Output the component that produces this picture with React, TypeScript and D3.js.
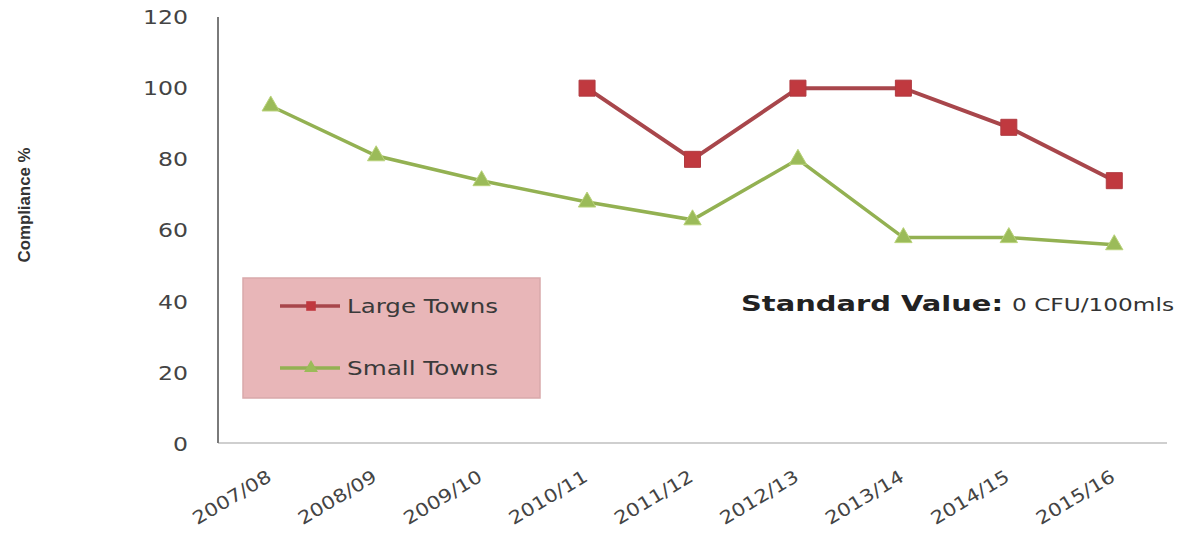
import React, { useEffect, useRef } from "react";
import * as d3 from "d3";

const categories = ["2007/08", "2008/09", "2009/10", "2010/11", "2011/12", "2012/13", "2013/14", "2014/15", "2015/16"];
const largeTowns: (number | null)[] = [null, null, null, 100, 80, 100, 100, 89, 74];
const smallTowns: (number | null)[] = [95, 81, 74, 68, 63, 80, 58, 58, 56];
const yTicks = [0, 20, 40, 60, 80, 100, 120];
const seriesNames = ["Large Towns", "Small Towns"];

const W = 1182;
const H = 538;

export default function App() {
  const ref = useRef<SVGSVGElement | null>(null);

  useEffect(() => {
    const svg = d3.select(ref.current);
    svg.selectAll("*").remove();

    const x = d3.scalePoint<string>().domain(categories).range([218, 1167]).padding(0.5);
    const y = d3.scaleLinear().domain([0, 120]).range([444, 17]);
    const font = "'DejaVu Sans', sans-serif";

    // axes lines
    svg.append("line").attr("x1", 218).attr("x2", 1167).attr("y1", 443).attr("y2", 443)
      .attr("stroke", "#cfcfcf").attr("stroke-width", 2);
    svg.append("line").attr("x1", 218).attr("x2", 218).attr("y1", 17).attr("y2", 443)
      .attr("stroke", "#7a7a7a").attr("stroke-width", 2);

    // y tick labels
    const yAxis = d3.axisLeft(y).tickValues(yTicks).tickSize(0).tickPadding(0);
    const gy = svg.append("g").attr("transform", "translate(188,0)").call(yAxis);
    gy.select(".domain").remove();
    gy.selectAll("text")
      .attr("font-family", font).attr("font-size", 20).attr("fill", "#444")
      .attr("textLength", (d: any) => String(d).length * 15)
      .attr("lengthAdjust", "spacingAndGlyphs");

    // x labels
    const gx = svg.append("g");
    gx.selectAll("text").data(categories).enter().append("text")
      .attr("transform", (d) => `translate(${(x(d) as number) + 2},480) rotate(-31)`)
      .attr("text-anchor", "end")
      .attr("font-family", font).attr("font-size", 18).attr("fill", "#444")
      .attr("textLength", 88).attr("lengthAdjust", "spacingAndGlyphs")
      .text((d) => d);

    // y title
    svg.append("text")
      .attr("transform", "translate(30,205) rotate(-90)")
      .attr("text-anchor", "middle")
      .attr("font-family", "'Liberation Sans', sans-serif").attr("font-weight", "bold")
      .attr("font-size", 17).attr("fill", "#333")
      .attr("textLength", 115).attr("lengthAdjust", "spacingAndGlyphs")
      .text("Compliance %");

    // legend box
    svg.append("rect").attr("x", 243).attr("y", 278).attr("width", 297).attr("height", 120)
      .attr("fill", "#e8b6b8").attr("stroke", "#d9a9ab").attr("stroke-width", 1.5);

    const redLine = "#a8464b";
    const redFill = "#c0393f";
    const greenLine = "#93b152";
    const greenFill = "#9bbb59";

    const line = d3.line<number | null>()
      .defined((d) => d !== null)
      .x((_, i) => x(categories[i]) as number)
      .y((d) => y(d as number));

    svg.append("path").attr("d", line(smallTowns) as string)
      .attr("fill", "none").attr("stroke", greenLine).attr("stroke-width", 3.5);
    svg.append("path").attr("d", line(largeTowns) as string)
      .attr("fill", "none").attr("stroke", redLine).attr("stroke-width", 4);

    const tri = d3.symbol().type(d3.symbolTriangle).size(130);
    const sq = d3.symbol().type(d3.symbolSquare).size(256);

    svg.append("g").selectAll("path").data(smallTowns.map((v, i) => ({ v, c: categories[i] })).filter((d) => d.v !== null))
      .enter().append("path")
      .attr("d", tri as any)
      .attr("transform", (d) => `translate(${x(d.c)},${y(d.v as number)})`)
      .attr("fill", greenFill).attr("stroke", "#b9d27a").attr("stroke-width", 1);

    svg.append("g").selectAll("path").data(largeTowns.map((v, i) => ({ v, c: categories[i] })).filter((d) => d.v !== null))
      .enter().append("path")
      .attr("d", sq as any)
      .attr("transform", (d) => `translate(${x(d.c)},${y(d.v as number)})`)
      .attr("fill", redFill).attr("stroke", "#b03a40").attr("stroke-width", 1);

    // legend entries
    const legendItems = [
      { name: seriesNames[0], y: 306, color: redLine, fill: redFill, sym: sq, symSize: 0.6 },
      { name: seriesNames[1], y: 368, color: greenLine, fill: greenFill, sym: tri, symSize: 0.8 },
    ];
    legendItems.forEach((it) => {
      svg.append("line").attr("x1", 280).attr("x2", 340).attr("y1", it.y).attr("y2", it.y)
        .attr("stroke", it.color).attr("stroke-width", 3.5);
      svg.append("path").attr("d", it.sym as any)
        .attr("transform", `translate(311,${it.y}) scale(${it.symSize})`)
        .attr("fill", it.fill);
      svg.append("text").attr("x", 347).attr("y", it.y + 7)
        .attr("font-family", font).attr("font-size", 19).attr("fill", "#3a3a3a")
        .attr("textLength", 151).attr("lengthAdjust", "spacingAndGlyphs")
        .text(it.name);
    });

    // annotation
    svg.append("text").attr("x", 741).attr("y", 311)
      .attr("font-family", font).attr("font-weight", "bold").attr("font-size", 22).attr("fill", "#222")
      .attr("textLength", 262).attr("lengthAdjust", "spacingAndGlyphs")
      .text("Standard Value:");
    svg.append("text").attr("x", 1012).attr("y", 311)
      .attr("font-family", font).attr("font-size", 17).attr("fill", "#333")
      .attr("textLength", 162).attr("lengthAdjust", "spacingAndGlyphs")
      .text("0 CFU/100mls");
  }, []);

  return (
    <svg ref={ref} width={W} height={H}
      style={{ position: "absolute", left: 0, top: 0, background: "#fff" }} />
  );
}
